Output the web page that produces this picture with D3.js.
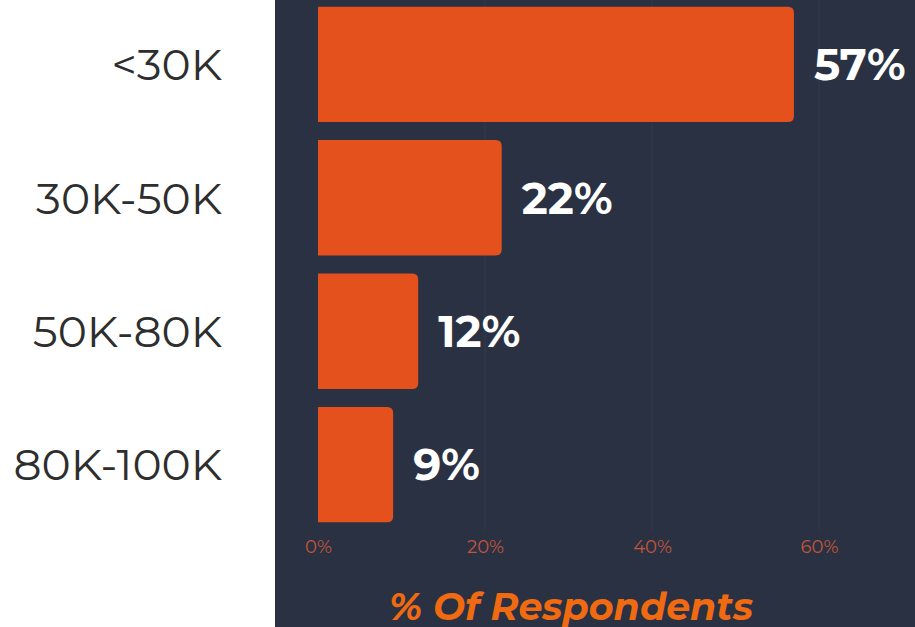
<!DOCTYPE html>
<html>
<head>
<meta charset="utf-8">
<script src="https://cdn.jsdelivr.net/npm/d3@7"></script>
<style>
  html, body { margin: 0; padding: 0; background: #ffffff; }
  svg { display: block; }
</style>
</head>
<body>
<svg id="chart" width="915" height="627"></svg>
<script>
// Household income bands and share of respondents
const categories = ["<30K", "30K-50K", "50K-80K", "80K-100K"];
const shares = [57, 22, 12, 9];
const tickValues = [0, 20, 40, 60];
const axisTitle = "% Of Respondents";

const W = 915, H = 627;
const svg = d3.select("#chart");

const panelX = 275;
const x = d3.scaleLinear().domain([0, 60]).range([318, 819]);
const y = d3.scaleBand().domain(categories).range([0, 529]).paddingInner(0.135).paddingOuter(0.05);

// dark plot panel
svg.append("rect").attr("x", panelX).attr("y", 0).attr("width", W - panelX).attr("height", H)
  .attr("fill", "#2a3142");

// faint vertical grid
svg.append("g").selectAll("line").data(tickValues.slice(1)).join("line")
  .attr("x1", d => x(d)).attr("x2", d => x(d)).attr("y1", 0).attr("y2", 530)
  .attr("stroke", "#323a4b").attr("stroke-width", 1);

// bars with rounded right ends
const r = 6;
function barPath(x0, x1, y0, h) {
  return `M${x0},${y0}H${x1 - r}Q${x1},${y0} ${x1},${y0 + r}V${y0 + h - r}Q${x1},${y0 + h} ${x1 - r},${y0 + h}H${x0}Z`;
}
svg.append("g").selectAll("path").data(categories).join("path")
  .attr("d", (c, i) => barPath(x(0), x(shares[i]), y(c), y.bandwidth()))
  .attr("fill", "#e4511d");

// value labels
svg.append("g").selectAll("text").data(categories).join("text")
  .attr("x", (c, i) => x(shares[i]) + 20)
  .attr("y", c => y(c) + y.bandwidth() / 2)
  .attr("dy", "0.36em")
  .attr("fill", "#ffffff")
  .attr("font-family", "Montserrat, Lato, 'Noto Sans', sans-serif")
  .attr("font-weight", 700)
  .attr("font-size", 44)
  .text((c, i) => shares[i] + "%");

// category labels
const yAxis = svg.append("g").attr("transform", `translate(222,0)`)
  .call(d3.axisLeft(y).tickSize(0).tickPadding(0));
yAxis.select(".domain").remove();
yAxis.selectAll("text")
  .attr("fill", "#2e2e2e")
  .attr("font-family", "Montserrat, 'Noto Sans', sans-serif")
  .attr("font-weight", 400)
  .attr("font-size", 44)
  .attr("dy", "0.36em");

// x axis tick labels
const xAxis = svg.append("g").attr("transform", `translate(0,540)`)
  .call(d3.axisBottom(x).tickValues(tickValues).tickFormat(d => d + "%").tickSize(0).tickPadding(0));
xAxis.select(".domain").remove();
xAxis.selectAll("text")
  .attr("fill", "#c4553b")
  .attr("font-family", "Montserrat, 'Noto Sans', sans-serif")
  .attr("font-size", 18)
  .attr("dy", "0.71em");

// axis title
svg.append("text")
  .attr("x", 571).attr("y", 620)
  .attr("text-anchor", "middle")
  .attr("fill", "#f06a12")
  .attr("font-family", "Montserrat, 'Noto Sans', sans-serif")
  .attr("font-weight", 700)
  .attr("font-style", "italic")
  .attr("font-size", 38)
  .text(axisTitle);
</script>
</body>
</html>
